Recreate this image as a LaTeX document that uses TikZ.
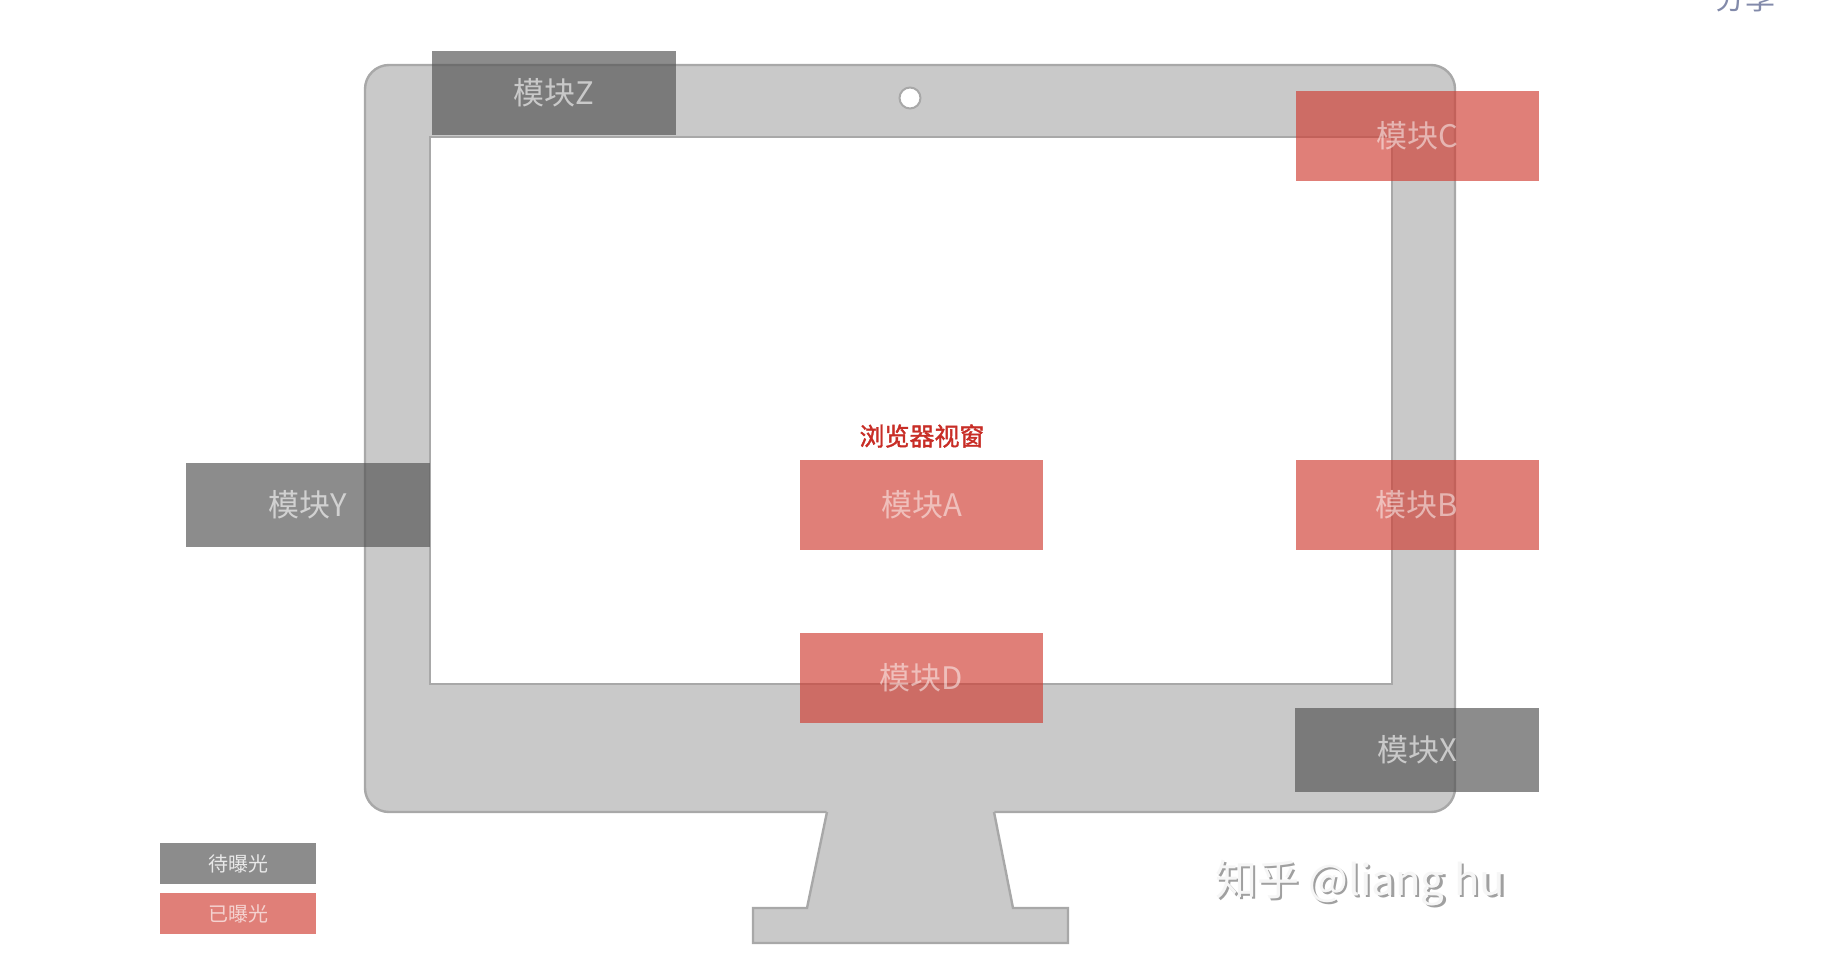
\documentclass[tikz,border=0pt]{standalone}
\usepackage{fontspec}
\setmainfont{Noto Sans CJK SC}[AutoFakeBold=1.5]
\definecolor{bezel}{RGB}{201,201,201}
\definecolor{edge}{RGB}{168,168,168}
\definecolor{modred}{RGB}{208,60,49}
\definecolor{modgray}{RGB}{84,84,84}
\definecolor{titlered}{RGB}{200,45,38}
\definecolor{sharecol}{RGB}{130,138,170}
\definecolor{leggray}{RGB}{140,140,140}
\definecolor{legred}{RGB}{224,127,120}
\definecolor{wmshadow}{RGB}{160,160,160}
\definecolor{wmface}{RGB}{246,246,246}
\newcommand{\mlab}[1]{\raisebox{-1.2pt}{#1}}
\begin{document}
\begin{tikzpicture}[x=0.5pt,y=-0.5pt,
  frame/.style={fill=bezel, draw=edge, line width=1.2pt},
  modlabel/.style={inner sep=0pt, font=\fontsize{15.5}{15.5}\selectfont},
  redmod/.style={modlabel, fill=modred, fill opacity=0.655, text=white, text opacity=0.5, minimum width=121.5pt, minimum height=45pt},
  graymod/.style={modlabel, fill=modgray, fill opacity=0.67, text=white, text opacity=0.6, minimum width=122pt, minimum height=42pt},
  legbox/.style={inner sep=0pt, minimum width=78pt, minimum height=20.5pt, font=\fontsize{10}{10}\selectfont},
  wm/.style={inner sep=0pt, font=\fontsize{21}{21}\selectfont}]
\useasboundingbox (0,0) rectangle (1836,958);
\fill[white] (0,0) rectangle (1836,958);
% monitor
\draw[frame, rounded corners=12pt] (365,65) rectangle (1455,812);
\draw[fill=white, draw=edge, line width=1.2pt] (430,137) rectangle (1392,684);
\node[circle, fill=white, draw=edge, line width=1pt, minimum size=10.5pt, inner sep=0pt] (cam) at (910,98) {};
% stand
\fill[bezel] (827,809) -- (994,809) -- (1013,908) -- (1068,908) -- (1068,943) -- (753,943) -- (753,908) -- (807,908) -- cycle;
\draw[edge, line width=1.2pt] (827,812) -- (807,908) -- (753,908) -- (753,943) -- (1068,943) -- (1068,908) -- (1013,908) -- (994,812);
% modules
\node[graymod] (Z) at (554,93) {\mlab{模块Z}};
\node[graymod] (Y) at (307.5,504.5) {\mlab{模块Y}};
\node[graymod] (X) at (1417,749.5) {\mlab{模块X}};
\node[redmod] (A) at (921.5,504.5) {\mlab{模块A}};
\node[redmod] (B) at (1417,504.5) {\mlab{模块B}};
\node[redmod] (C) at (1417,135.5) {\mlab{模块C}};
\node[redmod] (D) at (921.5,678) {\mlab{模块D}};
% title
\node[inner sep=0pt, text=titlered, font=\fontsize{12.5}{12.5}\selectfont\bfseries] (title) at (922,436) {浏览器视窗};
% legend
\node[legbox, fill=leggray, text=white, text opacity=0.8] (lg1) at (238,863.5) {待曝光};
\node[legbox, fill=legred, text=white, text opacity=0.65] (lg2) at (238,913.5) {已曝光};
% watermark
\node[wm, text=wmshadow] (wmsh) at (1362.5,885.5) {知乎 @liang hu};
\node[wm, text=wmface] (wmk) at (1360,883) {知乎 @liang hu};
% cut-off share text (cut off at the top edge, as in the reference)
\node[inner sep=0pt, text=sharecol, font=\fontsize{15}{15}\selectfont] (share) at (1745,-2) {分享};
\end{tikzpicture}
\end{document}
